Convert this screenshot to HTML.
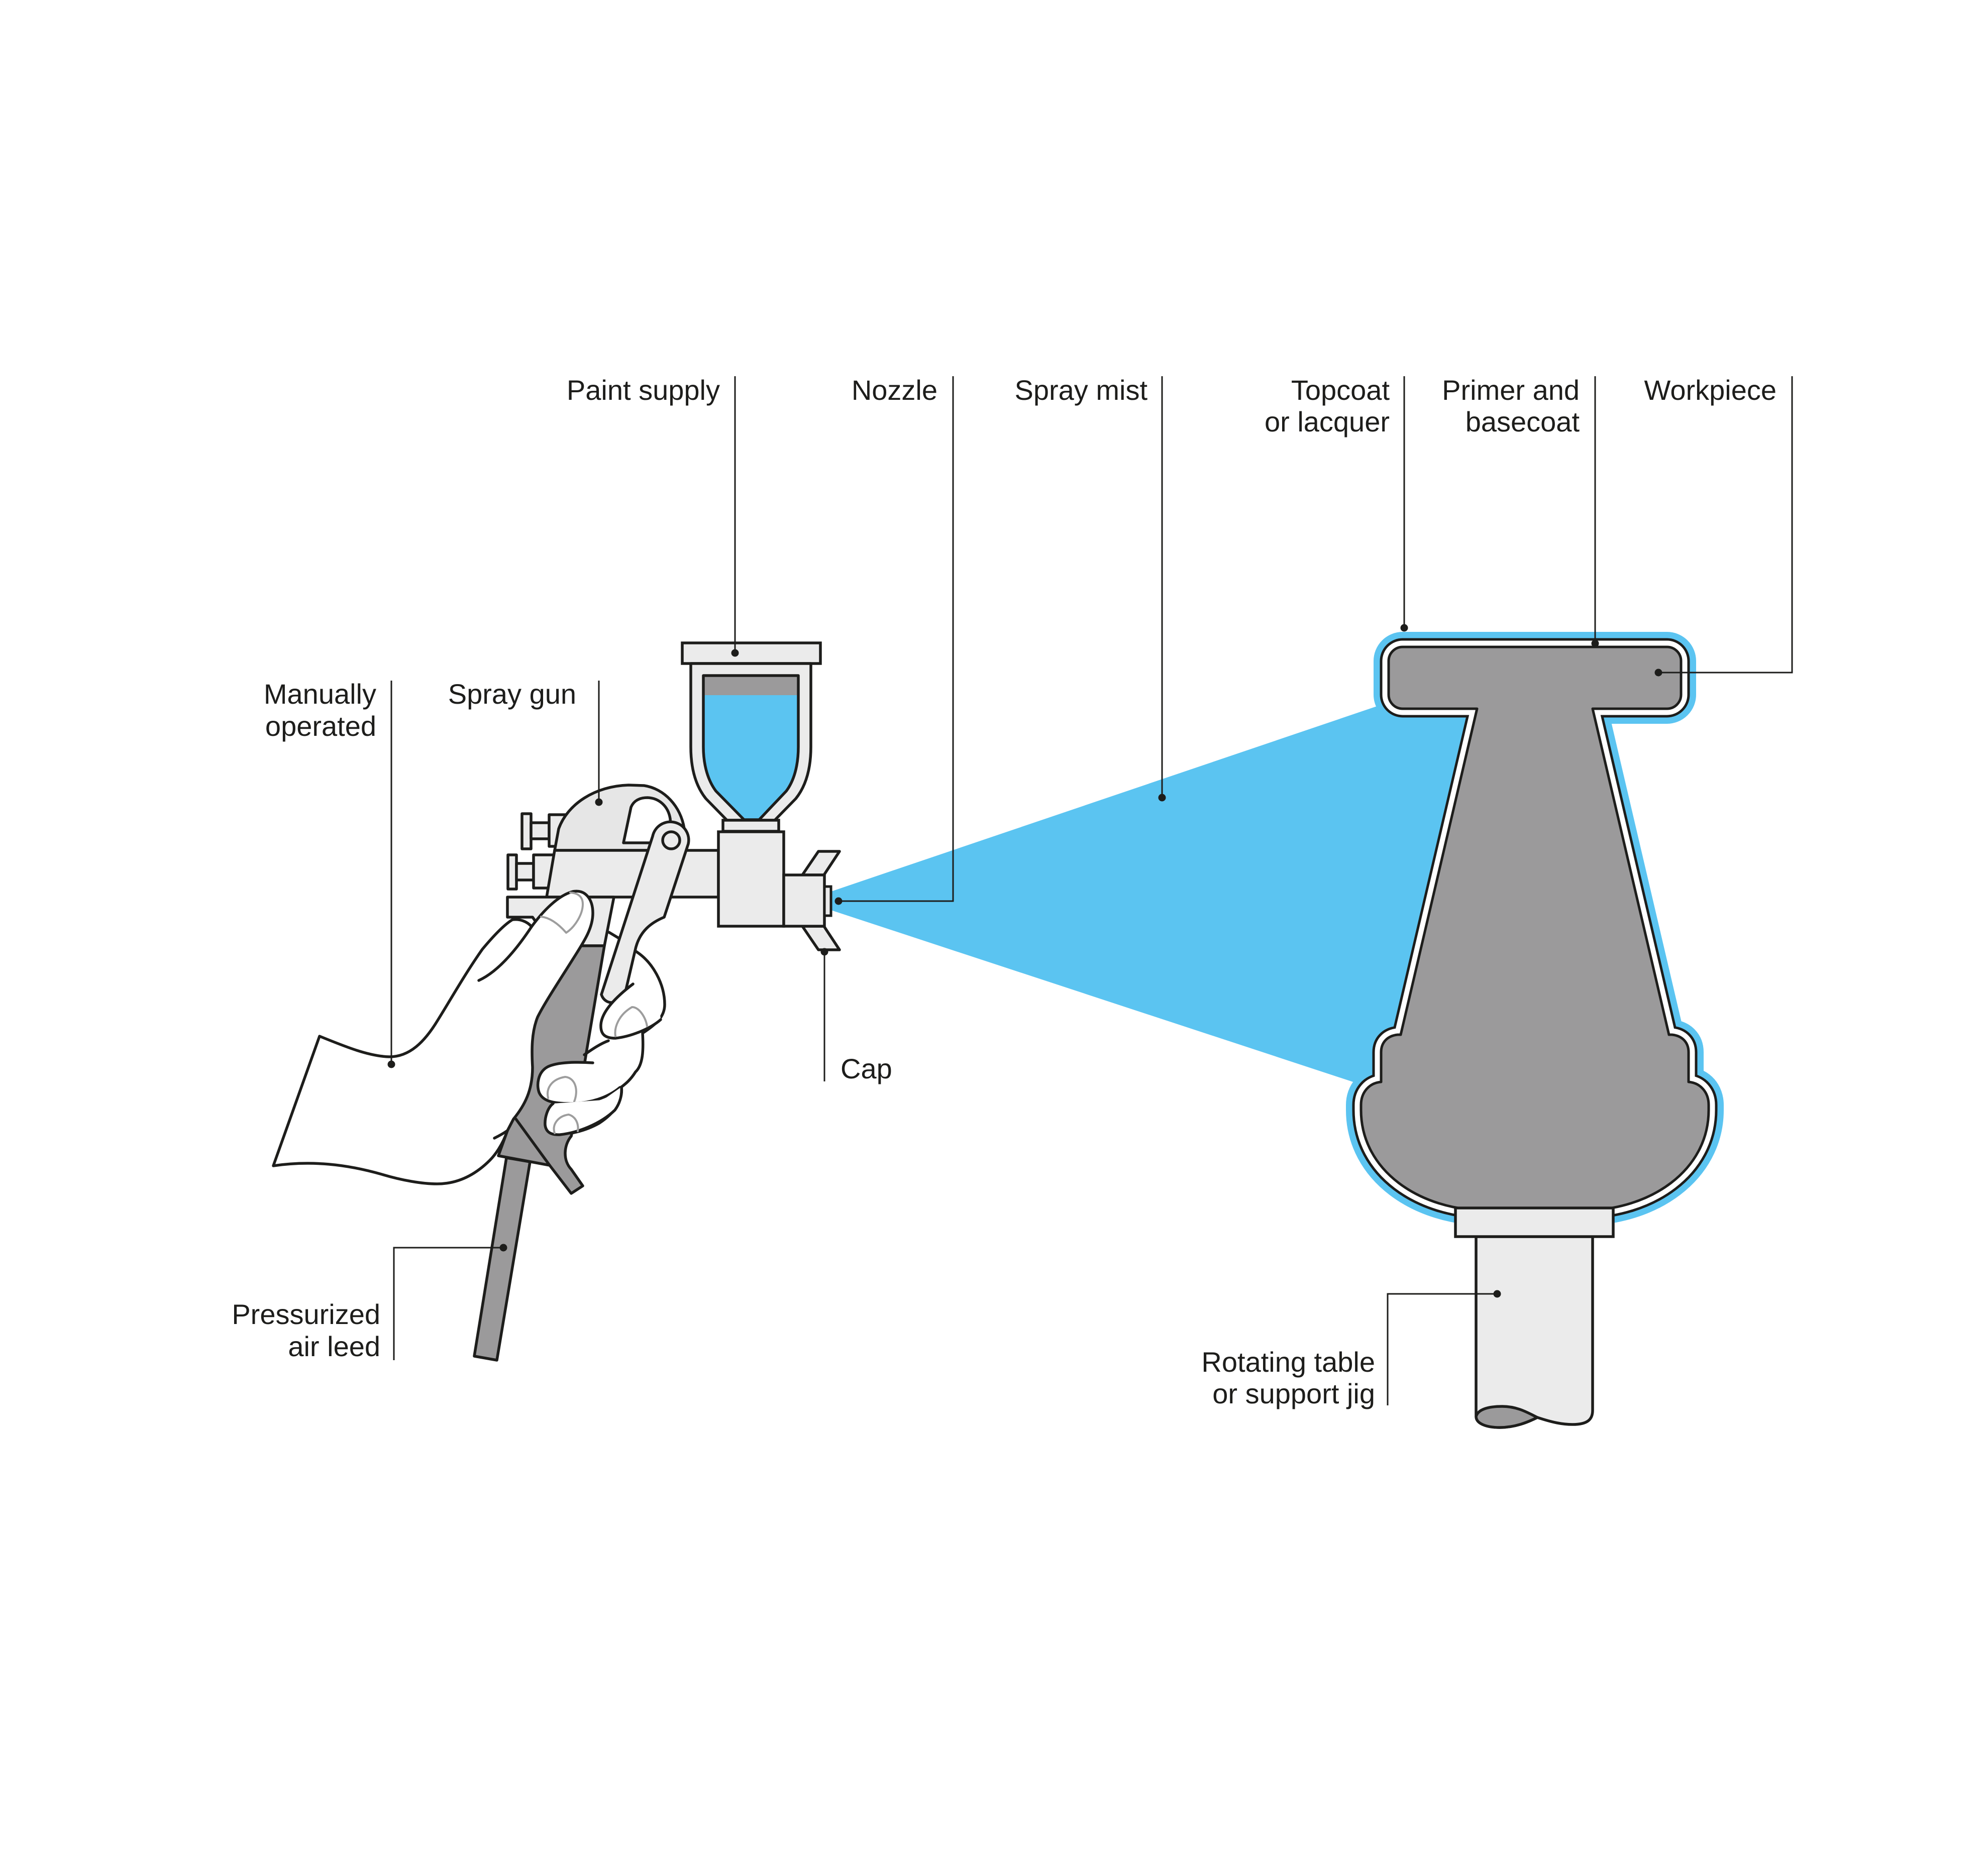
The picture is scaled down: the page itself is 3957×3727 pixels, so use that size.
<!DOCTYPE html>
<html>
<head>
<meta charset="utf-8">
<style>
  html,body{margin:0;padding:0;background:#ffffff;}
  svg{display:block;}
  text{font-family:"Liberation Sans", Arial, sans-serif;font-size:56px;fill:#1d1d1b;}
</style>
</head>
<body>
<svg width="3957" height="3727" viewBox="0 0 3957 3727" xmlns="http://www.w3.org/2000/svg">
  <rect x="0" y="0" width="3957" height="3727" fill="#ffffff"/>

  <!-- Spray mist -->
  <polygon points="1654,1775 3000,1318 3000,2255 1654,1812" fill="#5bc4f1"/>

  <!-- Workpiece layered coats -->
  <defs>
    <path id="core" d="M 2940,1411 L 2792,1411 A 28,28 0 0 1 2764,1383 L 2764,1316 A 28,28 0 0 1 2792,1288 L 3318,1288 A 28,28 0 0 1 3346,1316 L 3346,1383 A 28,28 0 0 1 3318,1411 L 3170,1411 L 3322,2060 L 3328,2060 C 3348,2062 3361,2075 3361,2095 L 3361,2154 C 3385,2156 3401,2175 3401,2200 L 3401,2210 C 3401,2330 3285,2410 3150,2410 L 2960,2410 C 2825,2410 2709,2330 2709,2210 L 2709,2200 C 2709,2175 2725,2156 2749,2154 L 2749,2095 C 2749,2075 2762,2062 2782,2060 L 2788,2060 Z"/>
  </defs>
  <use href="#core" fill="#5bc4f1" stroke="#5bc4f1" stroke-width="60" stroke-linejoin="round"/>
  <use href="#core" fill="none" stroke="#1d1d1b" stroke-width="35" stroke-linejoin="round"/>
  <use href="#core" fill="none" stroke="#ffffff" stroke-width="25" stroke-linejoin="round"/>
  <use href="#core" fill="#9b9a9b" stroke="#1d1d1b" stroke-width="5" stroke-linejoin="round"/>

  <!-- Column / rotating table -->
  <path d="M 2938,2462 L 2938,2818 C 2938,2835 2960,2842 2985,2842 C 3015,2842 3040,2832 3060,2822 C 3090,2832 3110,2836 3130,2836 C 3160,2836 3170,2826 3170,2808 L 3170,2462 Z" fill="#ebebeb" stroke="#1d1d1b" stroke-width="5.5" stroke-linejoin="round"/>
  <path d="M 2938,2820 C 2942,2806 2962,2800 2990,2800 C 3020,2800 3040,2812 3060,2822 C 3040,2832 3015,2842 2985,2842 C 2960,2842 2938,2835 2938,2820 Z" fill="#9b9a9b" stroke="#1d1d1b" stroke-width="5.5" stroke-linejoin="round"/>
  <rect x="2897" y="2405" width="314" height="57" fill="#ebebeb" stroke="#1d1d1b" stroke-width="5.5"/>

  <!-- Air hose -->
  <polygon points="1008,2305 1055,2313 989,2708 944,2700" fill="#9b9a9b" stroke="#1d1d1b" stroke-width="5.5" stroke-linejoin="round"/>

  <!-- Knobs -->
  <g fill="#ebebeb" stroke="#1d1d1b" stroke-width="5.5" stroke-linejoin="round">
    <rect x="1039" y="1620" width="18" height="70"/>
    <rect x="1057" y="1638" width="36" height="32"/>
    <rect x="1093" y="1622" width="38" height="63"/>
    <rect x="1011" y="1702" width="17" height="68"/>
    <rect x="1028" y="1719" width="34" height="33"/>
    <rect x="1062" y="1702" width="41" height="66"/>
  </g>

  <!-- Hump -->
  <path d="M 1104,1693 L 1112,1650 C 1130,1600 1185,1565 1251,1563 L 1282,1564 C 1322,1570 1355,1605 1362,1650 L 1364,1693 Z" fill="#e6e6e6" stroke="#1d1d1b" stroke-width="5.5" stroke-linejoin="round"/>
  <path d="M 1241,1678 L 1256,1607 C 1261,1595 1272,1588 1289,1588 C 1312,1589 1330,1605 1334,1630 L 1336,1660 L 1300,1678 Z" fill="#ffffff" stroke="#1d1d1b" stroke-width="5.5" stroke-linejoin="round"/>

  <!-- Barrel -->
  <polygon points="1104,1693 1430,1693 1430,1786 1088,1786" fill="#ebebeb" stroke="#1d1d1b" stroke-width="5.5" stroke-linejoin="round"/>
  <!-- Lower bar / grip top -->
  <polygon points="1010,1786 1222,1786 1203,1883 1100,1883 1060,1826 1010,1826" fill="#ebebeb" stroke="#1d1d1b" stroke-width="5.5" stroke-linejoin="round"/>

  <!-- Finger base blob -->
  <path d="M 1264,1893 C 1300,1915 1323,1960 1323,2000 C 1323,2025 1305,2040 1279,2057 C 1281,2090 1280,2120 1265,2134 C 1255,2150 1245,2158 1237,2164 C 1240,2190 1225,2215 1193,2236 C 1165,2252 1130,2260 1105,2258 L 1137,2262 L 1150,2200 L 1168,2090 L 1190,1955 L 1200,1963 Z" fill="#ffffff" stroke="none"/>
  <path d="M 1264,1893 C 1300,1915 1323,1960 1323,2000 C 1323,2025 1305,2040 1279,2057 C 1281,2090 1280,2120 1265,2134 C 1255,2150 1245,2158 1237,2164 C 1240,2190 1225,2215 1193,2236 C 1165,2252 1130,2260 1105,2258" fill="none" stroke="#1d1d1b" stroke-width="5.5" stroke-linecap="round" stroke-linejoin="round"/>

  <!-- Grip (dark) -->
  <path d="M 1150,1883 L 1203,1883 L 1168,2090 L 1150,2200 L 1137,2262 C 1122,2280 1120,2310 1137,2328 L 1160,2361 L 1137,2376 L 1094,2320 L 992,2301 L 1010,2251 L 1040,2150 L 1058,2050 L 1100,1950 Z" fill="#9b9a9b" stroke="#1d1d1b" stroke-width="5.5" stroke-linejoin="round"/>
  <line x1="1027" y1="2228" x2="1094" y2="2320" stroke="#1d1d1b" stroke-width="5.5" stroke-linecap="round"/>
  <line x1="1212" y1="1856" x2="1232" y2="1868" stroke="#1d1d1b" stroke-width="5.5" stroke-linecap="round"/>

  <!-- Paint cup -->
  <rect x="1358" y="1280" width="275" height="41" fill="#ebebeb" stroke="#1d1d1b" stroke-width="5.5"/>
  <path d="M 1375,1321 L 1375,1487 C 1375,1530 1385,1565 1405,1590 L 1447,1633 L 1542,1633 L 1584,1590 C 1604,1565 1614,1530 1614,1487 L 1614,1321 Z" fill="#ebebeb" stroke="#1d1d1b" stroke-width="5.5" stroke-linejoin="round"/>
  <path d="M 1400,1345 L 1589,1345 L 1589,1487 C 1589,1525 1580,1555 1565,1575 L 1511,1632 L 1481,1632 L 1425,1575 C 1410,1555 1400,1525 1400,1487 Z" fill="#5bc4f1"/>
  <rect x="1400" y="1345" width="189" height="39" fill="#9b9a9b"/>
  <path d="M 1400,1345 L 1589,1345 L 1589,1487 C 1589,1525 1580,1555 1565,1575 L 1511,1632 L 1481,1632 L 1425,1575 C 1410,1555 1400,1525 1400,1487 Z" fill="none" stroke="#1d1d1b" stroke-width="5.5" stroke-linejoin="round"/>
  <rect x="1439" y="1633" width="111" height="22" fill="#ebebeb" stroke="#1d1d1b" stroke-width="5.5"/>

  <!-- Gun body & nozzle -->
  <polygon points="1597,1742 1629,1695 1671,1695 1640,1742" fill="#ebebeb" stroke="#1d1d1b" stroke-width="5.5" stroke-linejoin="round"/>
  <polygon points="1597,1844 1629,1891 1671,1891 1640,1844" fill="#ebebeb" stroke="#1d1d1b" stroke-width="5.5" stroke-linejoin="round"/>
  <rect x="1430" y="1656" width="130" height="188" fill="#ebebeb" stroke="#1d1d1b" stroke-width="5.5"/>
  <rect x="1560" y="1742" width="81" height="102" fill="#ebebeb" stroke="#1d1d1b" stroke-width="5.5"/>
  <rect x="1641" y="1765" width="13" height="58" fill="#ebebeb" stroke="#1d1d1b" stroke-width="5"/>

  <!-- Lever -->
  <path d="M 1299,1665 A 36,36 0 0 1 1370,1680 L 1322,1826 C 1298,1836 1272,1853 1264,1893 L 1246,1970 C 1240,2000 1205,2005 1197,1980 Z" fill="#ebebeb" stroke="#1d1d1b" stroke-width="5.5" stroke-linejoin="round"/>
  <circle cx="1336" cy="1673" r="17" fill="#ebebeb" stroke="#1d1d1b" stroke-width="5.5"/>

  <!-- Palm & thumb -->
  <path d="M 544,2321 L 636,2063 C 690,2085 735,2103 775,2104 C 815,2104 845,2075 872,2030 C 900,1985 925,1940 960,1890 C 985,1860 1005,1840 1020,1831 C 1035,1829 1050,1835 1058,1845 C 1080,1815 1110,1783 1140,1775 C 1165,1770 1180,1790 1180,1818 C 1180,1850 1160,1878 1140,1910 C 1115,1950 1085,1995 1070,2025 C 1058,2055 1058,2090 1060,2125 C 1060,2170 1045,2200 1022,2228 L 1010,2251 C 1000,2280 985,2300 975,2310 C 945,2340 910,2357 870,2357 C 840,2357 800,2350 760,2338 C 690,2318 620,2310 544,2321 Z" fill="#ffffff" stroke="#1d1d1b" stroke-width="5.5" stroke-linejoin="round"/>
  <path d="M 953,1952 C 990,1935 1025,1895 1058,1845" fill="none" stroke="#1d1d1b" stroke-width="5.5" stroke-linecap="round"/>
  <path d="M 1010,2251 C 1000,2258 992,2262 984,2266" fill="none" stroke="#1d1d1b" stroke-width="5.5" stroke-linecap="round"/>
  <path d="M 1077,1825 C 1095,1827 1112,1840 1127,1857 C 1145,1845 1160,1820 1160,1800 C 1160,1785 1150,1778 1135,1777" fill="none" stroke="#9d9d9d" stroke-width="4" stroke-linecap="round" stroke-linejoin="round"/>

  <!-- Index fingertip -->
  <path d="M 1260,1959 C 1235,1978 1198,2010 1196,2040 C 1195,2060 1205,2067 1225,2067 C 1255,2064 1295,2048 1315,2030 L 1312,2000 L 1295,1965 Z" fill="#ffffff"/>
  <path d="M 1260,1959 C 1235,1978 1198,2010 1196,2040 C 1195,2060 1205,2067 1225,2067 C 1255,2064 1295,2048 1315,2030" fill="none" stroke="#1d1d1b" stroke-width="5.5" stroke-linecap="round"/>
  <path d="M 1225,2063 C 1222,2045 1232,2020 1258,2005 C 1272,2005 1285,2025 1288,2043" fill="none" stroke="#9d9d9d" stroke-width="4" stroke-linecap="round"/>

  <!-- Middle finger -->
  <path d="M 1163,2100 C 1180,2088 1195,2078 1211,2072" fill="none" stroke="#1d1d1b" stroke-width="5.5" stroke-linecap="round"/>
  <path d="M 1180,2116 C 1150,2114 1110,2114 1090,2124 C 1070,2135 1068,2160 1073,2175 C 1080,2192 1100,2197 1135,2197 C 1175,2197 1210,2185 1234,2165 L 1245,2125 Z" fill="#ffffff"/>
  <path d="M 1180,2116 C 1150,2114 1110,2114 1090,2124 C 1070,2135 1068,2160 1073,2175 C 1080,2192 1100,2197 1135,2197 C 1175,2197 1210,2185 1234,2165" fill="none" stroke="#1d1d1b" stroke-width="5.5" stroke-linecap="round"/>
  <path d="M 1091,2186 C 1086,2165 1100,2148 1125,2144 C 1145,2146 1152,2170 1143,2193" fill="none" stroke="#9d9d9d" stroke-width="4" stroke-linecap="round"/>

  <!-- Ring finger -->
  <path d="M 1101,2197 C 1090,2205 1084,2225 1085,2240 C 1087,2255 1098,2260 1115,2259 C 1150,2255 1195,2238 1224,2210 C 1235,2195 1238,2180 1237,2164 L 1200,2190 Z" fill="#ffffff"/>
  <path d="M 1101,2197 C 1090,2205 1084,2225 1085,2240 C 1087,2255 1098,2260 1115,2259 C 1150,2255 1195,2238 1224,2210 C 1235,2195 1238,2180 1237,2164" fill="none" stroke="#1d1d1b" stroke-width="5.5" stroke-linecap="round"/>
  <path d="M 1104,2256 C 1098,2240 1110,2222 1132,2219 C 1148,2224 1152,2240 1150,2252" fill="none" stroke="#9d9d9d" stroke-width="4" stroke-linecap="round"/>

  <!-- Leader lines -->
  <g fill="none" stroke="#1d1d1b" stroke-width="3">
    <path d="M 1463,749 L 1463,1300"/>
    <path d="M 1897,749 L 1897,1794 L 1669,1794"/>
    <path d="M 2313,749 L 2313,1588"/>
    <path d="M 2795,749 L 2795,1250"/>
    <path d="M 3175,749 L 3175,1281"/>
    <path d="M 3567,749 L 3567,1339 L 3301,1339"/>
    <path d="M 779,1355 L 779,2119"/>
    <path d="M 1192,1355 L 1192,1597"/>
    <path d="M 1641,1895 L 1641,2153"/>
    <path d="M 784,2708 L 784,2484 L 1002,2484"/>
    <path d="M 2762,2798 L 2762,2576 L 2980,2576"/>
  </g>
  <g fill="#1d1d1b">
    <circle cx="1463" cy="1300" r="7.5"/>
    <circle cx="1669" cy="1794" r="7.5"/>
    <circle cx="2313" cy="1588" r="7.5"/>
    <circle cx="2795" cy="1250" r="7.5"/>
    <circle cx="3175" cy="1281" r="7.5"/>
    <circle cx="3301" cy="1339" r="7.5"/>
    <circle cx="779" cy="2119" r="7.5"/>
    <circle cx="1192" cy="1597" r="7.5"/>
    <circle cx="1641" cy="1895" r="7.5"/>
    <circle cx="1002" cy="2484" r="7.5"/>
    <circle cx="2980" cy="2576" r="7.5"/>
  </g>

  <!-- Labels -->
  <text x="1433" y="796" text-anchor="end">Paint supply</text>
  <text x="1866" y="796" text-anchor="end">Nozzle</text>
  <text x="2284" y="796" text-anchor="end">Spray mist</text>
  <text x="2766" y="796" text-anchor="end">Topcoat</text>
  <text x="2766" y="859" text-anchor="end">or lacquer</text>
  <text x="3144" y="796" text-anchor="end">Primer and</text>
  <text x="3144" y="859" text-anchor="end">basecoat</text>
  <text x="3536" y="796" text-anchor="end">Workpiece</text>
  <text x="749" y="1401" text-anchor="end">Manually</text>
  <text x="749" y="1465" text-anchor="end">operated</text>
  <text x="1147" y="1401" text-anchor="end">Spray gun</text>
  <text x="1673" y="2147" text-anchor="start">Cap</text>
  <text x="757" y="2636" text-anchor="end">Pressurized</text>
  <text x="757" y="2700" text-anchor="end">air leed</text>
  <text x="2737" y="2731" text-anchor="end">Rotating table</text>
  <text x="2737" y="2794" text-anchor="end">or support jig</text>
</svg>
</body>
</html>
